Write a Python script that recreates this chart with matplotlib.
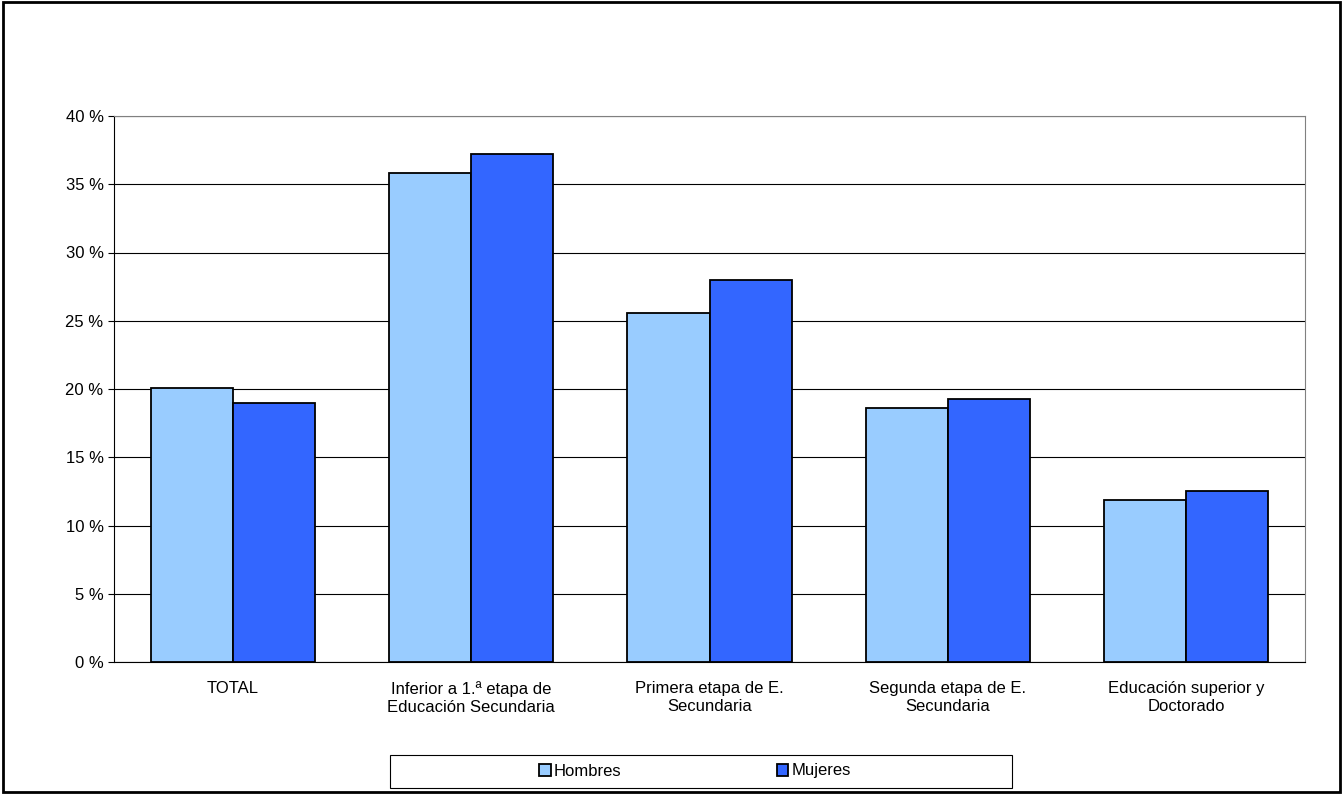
import matplotlib.pyplot as plt
import numpy as np
from matplotlib.ticker import FuncFormatter

categorias = ["TOTAL", "Inferior a 1.ª etapa de\nEducación Secundaria", "Primera etapa de E.\nSecundaria",
              "Segunda etapa de E.\nSecundaria", "Educación superior y\nDoctorado"]
hombres = [20.1, 35.8, 25.6, 18.6, 11.9]
mujeres = [19.0, 37.2, 28.0, 19.3, 12.5]

plt.rcParams['font.family'] = ['Liberation Sans', 'DejaVu Sans']
fig = plt.figure(figsize=(13.43, 7.94), dpi=100)
fig.patches.append(plt.Rectangle((0.002, 0.002), 0.996, 0.996, transform=fig.transFigure,
                                 fill=False, edgecolor='black', linewidth=2))
ax = fig.add_axes([114/1343, 1-662/794, (1305-114)/1343, (662-116)/794])

x = np.arange(len(categorias))
w = 0.345
ax.bar(x - w/2, hombres, w, color='#99ccff', edgecolor='black', linewidth=1.3, label='Hombres', zorder=3)
ax.bar(x + w/2, mujeres, w, color='#3366ff', edgecolor='black', linewidth=1.3, label='Mujeres', zorder=3)

ax.set_xlim(-0.5, 4.5)
ax.set_ylim(0, 40)
ax.set_yticks(range(0, 41, 5))
ax.yaxis.set_major_formatter(FuncFormatter(lambda v, p: f"{int(v)} %"))
ax.grid(axis='y', color='black', linewidth=0.8, zorder=0)
ax.set_xticks(x)
ax.set_xticklabels(categorias, fontsize=12)
ax.tick_params(axis='y', labelsize=12, length=4)
ax.tick_params(axis='x', length=0, pad=14)
for s in ax.spines.values():
    s.set_color('#808080')
ax.spines['left'].set_color('black')
ax.spines['bottom'].set_color('black')

fig.patches.append(plt.Rectangle((390/1343, 1-788/794), 622/1343, 33/794, transform=fig.transFigure,
                                 fill=False, edgecolor='black', linewidth=0.8))
leg = fig.legend(loc='center', bbox_to_anchor=(695/1343, 1-771/794), ncol=2, fontsize=12,
                 frameon=False, handlelength=0.7, handletextpad=0.2, columnspacing=9.3)
fig.savefig('out.png')
